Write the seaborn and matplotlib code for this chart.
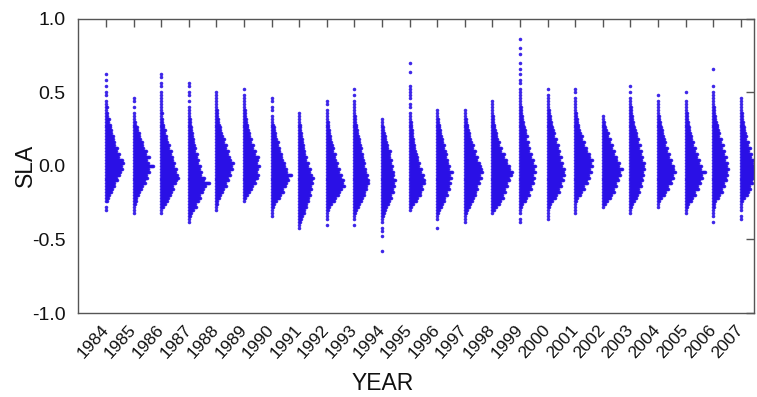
import numpy as np
import pandas as pd
import matplotlib
matplotlib.use("Agg")
import matplotlib.pyplot as plt
import seaborn as sns

# ---------------- data ----------------
years = list(range(1984, 2008))
year_labels = [str(y) for y in years]
ytick_vals = [-1.0, -0.5, 0.0, 0.5, 1.0]
ytick_labels = ["-1.0", "-0.5", "0.0", "0.5", "1.0"]

bin_width = 0.02   # SLA bin size of the dot-histograms
# lowest SLA bin of each year
lo = [-0.30, -0.32, -0.32, -0.38, -0.30, -0.24, -0.34, -0.42, -0.40, -0.40, -0.58, -0.30,
      -0.42, -0.38, -0.32, -0.38, -0.36, -0.32, -0.28, -0.32, -0.28, -0.32, -0.38, -0.36]

# number of SLA observations (dots) in each bin, from lo upwards
c1984 = [1,1,0,2,3,4,6,7,9,9,12,11,14,15,17,16,18,17,13,14,11,12,9,9,8,8,6,6,5,5,3,4,2,2,1,2,1,1,0,1,1,0,1,0,1,0,1]
c1985 = [1,1,1,2,3,3,5,6,8,9,12,11,14,13,16,15,20,15,13,16,12,13,10,9,9,7,6,6,4,4,2,2,1,1,1,0,1,0,1,1]
c1986 = [1,1,3,5,7,8,10,11,13,12,15,16,18,17,15,16,13,14,12,12,10,11,8,9,7,6,6,4,5,3,3,2,2,1,2,1,1,1,1,1,1,1,0,1,1,0,1,1]
c1987 = [1,1,2,3,5,8,7,10,12,11,14,15,17,21,15,16,12,13,11,12,9,10,8,9,6,7,6,5,5,4,4,3,3,2,2,2,1,1,1,1,0,1,0,1,1,0,1,1]
c1988 = [1,1,2,2,4,5,7,8,11,10,13,12,15,14,17,16,18,15,14,12,13,10,11,8,9,7,6,5,5,4,3,3,2,2,2,1,1,1,1,1,1]
c1989 = [1,2,4,6,8,9,12,11,14,15,13,14,16,13,14,15,11,12,9,10,7,8,6,6,5,4,4,3,3,2,2,2,1,1,1,1,1,0,1]
c1990 = [1,1,1,2,3,5,8,9,12,11,14,15,17,16,20,15,15,13,13,11,10,10,8,8,6,7,5,4,4,3,3,2,1,1,1,0,1,1,0,1,1]
c1991 = [1,1,2,3,4,6,6,8,8,10,10,12,11,13,12,14,13,15,13,11,12,9,10,7,8,6,6,5,5,4,4,3,3,2,2,2,1,1,1,1]
c1992 = [1,0,1,1,1,2,3,5,8,9,12,13,15,18,16,17,14,15,12,13,10,11,9,8,9,6,7,6,5,4,4,3,3,2,2,2,1,1,1,1,0,1,1]
c1993 = [1,0,1,1,2,3,5,6,8,9,11,11,13,13,15,15,13,14,12,12,10,11,10,9,9,7,8,7,6,6,5,4,4,3,3,2,2,2,1,1,1,1,1,0,1,0,1]
c1994 = [1,0,0,0,0,1,0,1,1,0,1,1,2,3,4,5,7,8,10,9,12,11,13,12,14,11,12,12,10,11,9,10,8,8,9,6,6,5,4,4,3,2,2,1,1,1]
c1995 = [1,2,4,7,8,11,11,13,12,15,15,13,14,11,12,9,10,8,8,7,6,5,5,4,4,3,3,3,2,2,2,1,1,1,0,1,1,0,1,1,1,1,1,0,0,0,0,1,0,0,1]
c1996 = [1,0,0,1,1,2,3,5,6,8,8,11,10,13,12,14,12,15,13,16,12,13,11,11,9,10,9,7,8,6,6,5,4,4,3,3,2,2,1,1,1]
c1997 = [1,1,1,2,3,5,6,8,9,11,11,13,12,15,14,17,15,18,17,16,15,12,13,10,11,8,9,7,6,5,5,4,3,3,2,2,1,1,1]
c1998 = [1,3,5,8,9,12,11,14,13,16,15,18,17,20,21,18,18,15,15,12,13,9,10,7,8,6,5,5,4,3,3,2,2,2,1,1,1,1,1]
c1999 = [1,1,0,1,1,2,3,6,7,10,9,12,11,14,13,15,13,16,14,16,13,14,11,12,9,10,8,9,6,8,6,6,5,4,4,3,3,2,2,2,
         1,1,1,1,1,1,0,1,1,0,1,0,1,0,1,0,0,1,0,1,0,0,1]
c2000 = [1,1,1,1,2,3,5,8,9,12,11,14,13,16,14,17,16,17,14,15,12,14,11,12,10,11,8,9,6,7,6,5,4,4,3,3,2,2,1,1,1,1,1,0,1]
c2001 = [1,1,1,1,2,3,6,7,10,9,13,12,15,14,17,15,18,16,18,15,15,12,12,9,10,7,8,6,5,4,4,3,3,2,2,1,1,1,1,1,0,1,1]
c2002 = [1,3,5,8,9,12,11,14,13,16,15,18,17,20,16,17,14,14,11,12,9,10,7,8,5,6,4,3,2,2,1,1]
c2003 = [1,1,2,3,5,7,8,10,9,12,11,13,12,14,13,15,14,15,12,13,11,12,9,11,8,9,7,7,6,5,4,4,3,3,2,2,2,1,1,1,0,1,0,1]
c2004 = [1,1,2,4,7,8,11,10,14,13,16,15,18,16,16,13,14,11,12,9,10,7,8,7,6,5,5,4,3,3,2,2,1,1,1,1,1,0,1]
c2005 = [1,1,2,3,6,7,10,9,13,12,15,14,17,16,20,15,16,13,14,11,12,9,10,7,8,6,6,5,4,4,3,3,2,2,2,1,1,1,1,0,0,1]
c2006 = [1,0,1,1,1,2,2,3,6,7,10,9,12,11,14,13,15,14,16,14,15,12,14,11,12,9,11,8,9,6,7,6,5,5,4,3,3,2,2,2,
         1,1,1,1,1,0,1,0,0,0,0,0,1]
c2007 = [1,1,0,1,1,1,2,4,7,8,10,9,12,11,14,13,15,14,15,12,13,10,11,8,10,7,8,5,6,5,4,4,3,3,2,2,2,1,1,1,1,1]

counts = [c1984, c1985, c1986, c1987, c1988, c1989, c1990, c1991, c1992, c1993, c1994, c1995,
          c1996, c1997, c1998, c1999, c2000, c2001, c2002, c2003, c2004, c2005, c2006, c2007]

# ---------------- layout: one-sided dot histogram per year ----------------
DOT_STEP = 1 / 27.6   # horizontal spacing between stacked dots (category units)
xs, ys = [], []
for i, (start, cs) in enumerate(zip(lo, counts)):
    for j, n in enumerate(cs):
        sla = start + j * bin_width
        for k in range(n):
            xs.append(i + k * DOT_STEP)
            ys.append(sla)
df = pd.DataFrame({"pos": xs, "SLA": ys})

sns.set_style("white")
plt.rcParams["font.family"] = ["Liberation Sans", "DejaVu Sans"]

W, H = 757, 397
fig = plt.figure(figsize=(W / 100, H / 100), dpi=100)
ax = fig.add_axes([78 / W, 1 - 313 / H, (754 - 78) / W, (313 - 18.5) / H])

sns.scatterplot(data=df, x="pos", y="SLA", ax=ax, color="#2A10E6", s=6.5,
                linewidth=0, marker="o", alpha=0.9, legend=False)

ax.set_xlim(-1.014, 23.48)
ax.set_ylim(-1, 1)
ax.set_xticks(range(len(years)))
ax.set_xticklabels(year_labels, rotation=48, ha="right", va="center",
                   rotation_mode="anchor", fontsize=12.5)
ax.set_yticks(ytick_vals)
ax.set_yticklabels(ytick_labels, fontsize=14)

for s in ax.spines.values():
    s.set_color("#555555")
    s.set_linewidth(1.0)
ax.tick_params(direction="in", top=True, right=True, length=6, width=1.0,
               color="#555555", labelcolor="#111111")
ax.tick_params(axis="x", pad=10)
ax.tick_params(axis="y", pad=9)

ax.set_xlabel("YEAR", fontsize=16.5, color="#111111")
ax.set_ylabel("SLA", fontsize=16.5, color="#111111")
ax.xaxis.set_label_coords(0.451, -0.20)
ax.yaxis.set_label_coords(-0.06, 0.5)

fig.savefig("out.png", dpi=100)
